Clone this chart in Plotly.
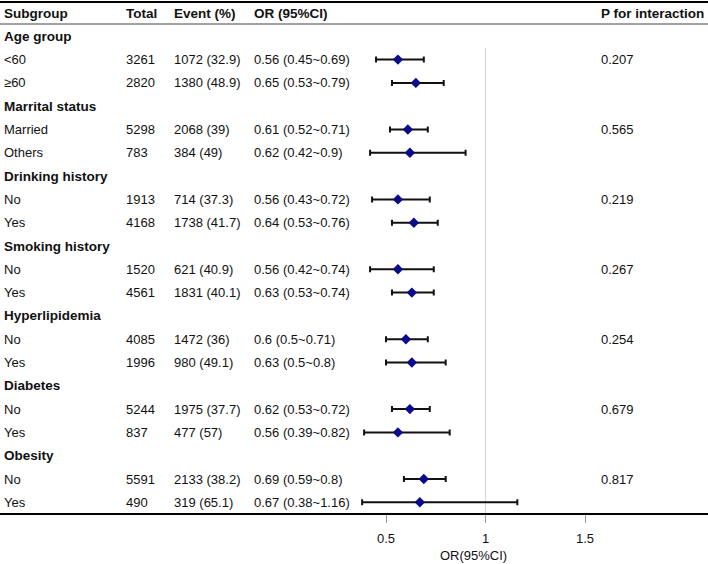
import plotly.graph_objects as go

# ---------------- data ----------------
group_names = ["Age group", "Marrital status", "Drinking history", "Smoking history",
               "Hyperlipidemia", "Diabetes", "Obesity"]
sub_labels = [["<60", "≥60"], ["Married", "Others"], ["No", "Yes"], ["No", "Yes"],
              ["No", "Yes"], ["No", "Yes"], ["No", "Yes"]]
totals = [3261, 2820, 5298, 783, 1913, 4168, 1520, 4561, 4085, 1996, 5244, 837, 5591, 490]
events = [1072, 1380, 2068, 384, 714, 1738, 621, 1831, 1472, 980, 1975, 477, 2133, 319]
event_pct = ["32.9", "48.9", "39", "49", "37.3", "41.7", "40.9", "40.1", "36", "49.1",
             "37.7", "57", "38.2", "65.1"]
or_est = [0.56, 0.65, 0.61, 0.62, 0.56, 0.64, 0.56, 0.63, 0.6, 0.63, 0.62, 0.56, 0.69, 0.67]
or_lo = [0.45, 0.53, 0.52, 0.42, 0.43, 0.53, 0.42, 0.53, 0.5, 0.5, 0.53, 0.39, 0.59, 0.38]
or_hi = [0.69, 0.79, 0.71, 0.9, 0.72, 0.76, 0.74, 0.74, 0.71, 0.8, 0.72, 0.82, 0.8, 1.16]
p_interaction = ["0.207", "0.565", "0.219", "0.267", "0.254", "0.679", "0.817"]
headers = ["Subgroup", "Total", "Event (%)", "OR (95%CI)", "P for interaction"]
x_ticks = [0.5, 1, 1.5]
x_tick_labels = ["0.5", "1", "1.5"]

# ---------------- layout constants ----------------
W, H = 708, 564
PLOT_BOTTOM = 513          # pixel of bottom axis line
ROW0, ROWH = 13.0, 23.3    # pixel centre of header row, row spacing
PX_PER_UNIT = 199.0
X_ZERO_PX = 286.5
FONT = "Liberation Sans, Arial, sans-serif"
FS = 13
FS_BOLD = 13.5

col_px = [3, 125, 173, 253, 600]

def px2paper_x(px):
    return px / W

def px2paper_y(py):
    return 1 - py / PLOT_BOTTOM

# build row structure
row_y = []
group_rows = []
r = 1
for g, subs in zip(group_names, sub_labels):
    group_rows.append(r)
    r += 1
    for s in subs:
        row_y.append(r)
        r += 1

annotations = []
def add_text(px, row, text, bold=False, anchor="left"):
    annotations.append(dict(
        x=px2paper_x(px), xref="paper", y=row, yref="y",
        text=f"<b>{text}</b>" if bold else text,
        showarrow=False, xanchor=anchor, yanchor="middle",
        font=dict(family=FONT, size=FS_BOLD if bold else FS, color="#111111"),
        borderpad=0))

# header
for h, px in zip(headers, col_px):
    add_text(px, 0, h, bold=True)

k = 0
for gi, (g, subs) in enumerate(zip(group_names, sub_labels)):
    add_text(col_px[0], group_rows[gi], g, bold=True)
    for si, s in enumerate(subs):
        y = row_y[k]
        add_text(col_px[0], y, s)
        add_text(col_px[1], y, str(totals[k]))
        add_text(col_px[2], y, f"{events[k]} ({event_pct[k]})")
        add_text(col_px[3], y, f"{or_est[k]} ({or_lo[k]}~{or_hi[k]})")
        if si == 0:
            add_text(col_px[4], y, p_interaction[gi])
        k += 1

# axis title
annotations.append(dict(
    x=px2paper_x(473), xref="paper", y=px2paper_y(555), yref="paper",
    text="OR(95%CI)", showarrow=False, xanchor="center", yanchor="middle",
    font=dict(family=FONT, size=FS, color="#111111")))

fig = go.Figure()
fig.add_trace(go.Scatter(
    x=or_est, y=row_y, mode="markers",
    marker=dict(symbol="diamond", size=8, color="#0b0b8a", line=dict(width=0)),
    error_x=dict(type="data", symmetric=False,
                 array=[h - e for h, e in zip(or_hi, or_est)],
                 arrayminus=[e - l for e, l in zip(or_est, or_lo)],
                 color="#111111", thickness=2, width=3),
    showlegend=False, hoverinfo="skip"))

x_range = [-X_ZERO_PX / PX_PER_UNIT, (W - X_ZERO_PX) / PX_PER_UNIT]
y_bottom = (PLOT_BOTTOM - ROW0) / ROWH
y_top = -ROW0 / ROWH

shapes = [
    dict(type="line", xref="paper", yref="paper", x0=0, x1=1,
         y0=px2paper_y(2), y1=px2paper_y(2), line=dict(color="#000000", width=2)),
    dict(type="line", xref="paper", yref="paper", x0=0, x1=1,
         y0=px2paper_y(24), y1=px2paper_y(24), line=dict(color="#444444", width=1)),
    dict(type="line", xref="x", yref="y", x0=1, x1=1, y0=1.5, y1=y_bottom,
         line=dict(color="#d4d4d4", width=1), layer="below"),
]

fig.update_layout(
    width=W, height=H,
    margin=dict(l=0, r=0, t=0, b=H - PLOT_BOTTOM, pad=0),
    paper_bgcolor="white", plot_bgcolor="white",
    showlegend=False,
    annotations=annotations, shapes=shapes,
    xaxis=dict(range=x_range, showgrid=False, zeroline=False,
               showline=True, linecolor="#000000", linewidth=2,
               tickmode="array", tickvals=x_ticks, ticktext=x_tick_labels,
               ticks="outside", ticklen=8, tickcolor="#999999", tickwidth=1,
               ticklabelstandoff=4,
               tickfont=dict(family=FONT, size=FS, color="#111111"),
               fixedrange=True),
    yaxis=dict(range=[y_bottom, y_top], showgrid=False, zeroline=False,
               showline=False, showticklabels=False, ticks="", fixedrange=True),
)

fig.write_html("out.html", config={"displayModeBar": False},
               post_script="document.body.style.margin='0';document.body.style.padding='0';")
